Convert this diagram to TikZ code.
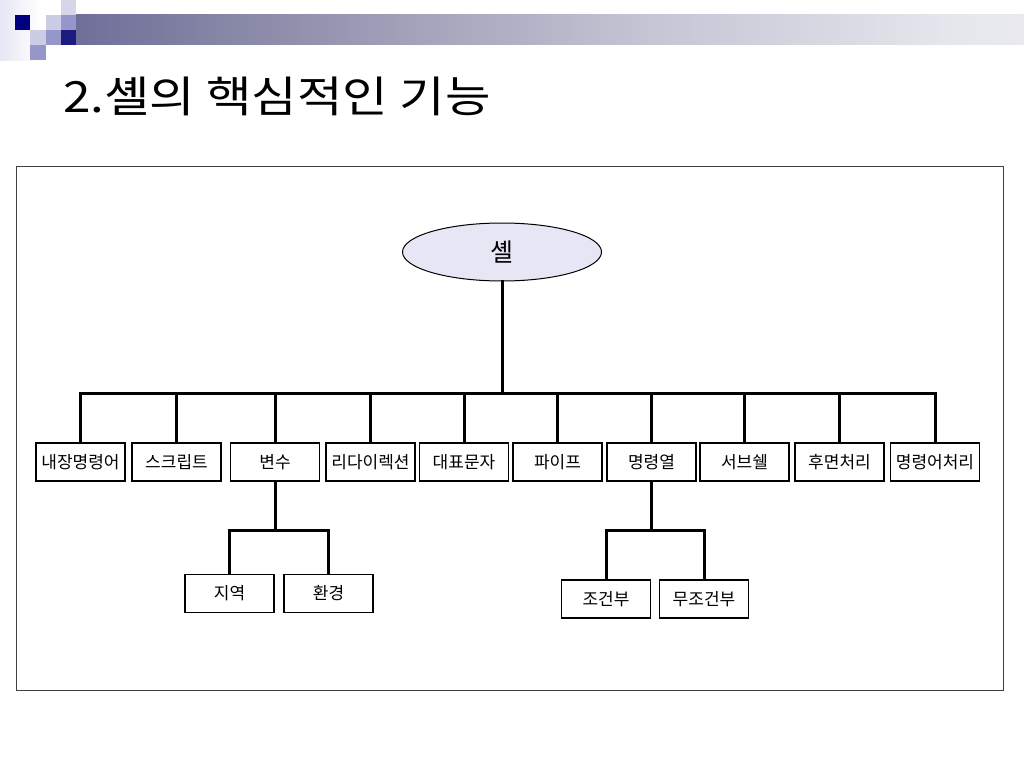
\documentclass[tikz,border=0pt]{standalone}
\usepackage{fontspec}
\setmainfont{Noto Sans CJK KR}
\usepackage{tikz}
\usetikzlibrary{shapes.geometric}
\definecolor{navy}{RGB}{0,0,128}
\definecolor{deepbar}{RGB}{28,28,128}
\definecolor{paleblue}{RGB}{204,204,230}
\definecolor{midblue}{RGB}{150,150,202}
\definecolor{shellfill}{RGB}{230,230,245}
\pgfdeclarehorizontalshading{barshade}{100bp}{rgb(0bp)=(0.11,0.11,0.5); rgb(18bp)=(0.35,0.35,0.56); rgb(34bp)=(0.54,0.54,0.66); rgb(45bp)=(0.66,0.66,0.75); rgb(55bp)=(0.77,0.77,0.83); rgb(71bp)=(0.9,0.9,0.93); rgb(100bp)=(1,1,1)}
\tikzset{
every picture/.style={line join=miter},
item/.style={draw, line width=1.2pt, minimum width=89pt, minimum height=38pt, inner sep=0pt, font=\fontsize{17}{19}\selectfont},
shell/.style={ellipse, draw, line width=1pt, fill=shellfill, minimum width=199pt, minimum height=58pt, inner sep=0pt, font=\fontsize{25}{28}\selectfont},
link/.style={line width=3pt, line cap=rect}
}

\begin{document}
\begin{tikzpicture}[x=1pt, y=-1pt]
  \useasboundingbox (0,0) rectangle (1024,768);
  % header squares and bar
  \shade[left color=shellfill, right color=white] (0,0) rectangle (40,60);
  \fill[navy] (15,15) rectangle (30,30);
  \fill[paleblue] (46,15) rectangle (61,30);
  \fill[midblue] (61,15) rectangle (76,30);
  \fill[paleblue!80] (61,0) rectangle (76,15);
  \fill[paleblue] (30,30) rectangle (46,45);
  \fill[midblue] (46,30) rectangle (61,45);
  \fill[midblue] (30,45) rectangle (46,60);
  \fill[deepbar] (61,30) rectangle (76,45);
  \shade[shading=barshade] (76,15) rectangle (1024,45);
  \node[anchor=base west, inner sep=0pt, font=\fontsize{43}{48}\selectfont] (title) at (63,112) {\scalebox{1.15}[1]{2.셸의 핵심적인 기능}};

  \draw[black!75, line width=1pt] (16,166) rectangle (1003,690);

  \node[shell] (shell) at (502,252) {셸};
  \foreach \name/\x/\txt in {builtin/80.5/내장명령어, script/176.5/스크립트, var/275/변수, redir/370.5/리다이렉션, wild/464/대표문자, pipe/557.5/파이프, cmdlist/651.5/명령열, subshell/744.5/서브쉘, bg/839.5/후면처리, cmdproc/935/명령어처리}
    \node[item] (\name) at (\x,462) {\txt};

  \coordinate (bus) at (502,393);
  \draw[link] (shell.south) -- (bus);
  \draw[link] (bus -| builtin) -- (bus -| cmdproc);
  \foreach \name in {builtin, script, var, redir, wild, pipe, cmdlist, subshell, bg, cmdproc}
    \draw[link] (bus -| \name) -- (\name.north);

  % 변수
  \node[item] (local) at (229.5,593.5) {지역};
  \node[item] (env) at (328.5,593.5) {환경};
  \coordinate (varbus) at (275,530);
  \draw[link] (var.south) -- (varbus);
  \draw[link] (local.north) -- (local |- varbus) -- (env |- varbus) -- (env.north);

  % 명령열
  \node[item] (cond) at (606,599) {조건부};
  \node[item] (uncond) at (704,599) {무조건부};
  \coordinate (listbus) at (651.5,530);
  \draw[link] (cmdlist.south) -- (listbus);
  \draw[link] (cond.north) -- (cond |- listbus) -- (uncond |- listbus) -- (uncond.north);
\end{tikzpicture}
\end{document}
